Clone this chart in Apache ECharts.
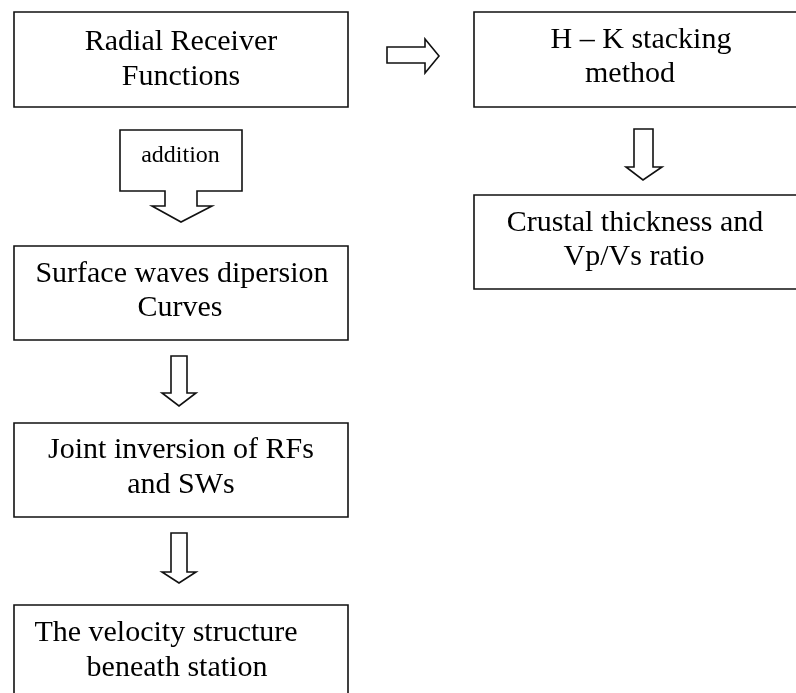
<!DOCTYPE html>
<html><head><meta charset="utf-8">
<script src="https://cdn.jsdelivr.net/npm/echarts@6/dist/echarts.min.js"></script>
<style>html,body{margin:0;padding:0;background:#fff}#c{width:796px;height:693px}</style>
</head><body><div id="c"></div>
<script>
// ---- content (flowchart steps and links) ----
const stepLines = [
  ["Radial Receiver", "Functions"],
  ["Surface waves dipersion", "Curves"],
  ["Joint inversion of RFs", "and SWs"],
  ["The velocity structure", "beneath station"],
  ["H \u2013 K stacking", "method"],
  ["Crustal thickness and", "Vp/Vs ratio"]
];
const linkFrom = [0, 1, 2, 0, 4];
const linkTo = [1, 2, 3, 4, 5];
const linkLabels = ["addition", "", "", "", ""];

// ---- layout (in a 796 x 693 coordinate space) ----
const boxRects = [
  [14, 12, 348, 107],
  [14, 246, 348, 340],
  [14, 423, 348, 517],
  [14, 605, 348, 730],
  [474, 12, 810, 107],
  [474, 195, 810, 289]
];
const boxBaselines = [[52, 87], [284, 318], [460, 495], [643, 678], [50, 84], [233, 267]];
const boxCenters = [[181, 181], [182, 180], [181, 181], [166, 177], [641, 630], [635, 634]];
const arrowPolys = [
  [[120,130],[242,130],[242,191],[197,191],[197,206],[212,206],[181,222],[152,206],[165,206],[165,191],[120,191]],
  [[171,356],[187,356],[187,393],[196,393],[179,406],[162,393],[171,393]],
  [[171,533],[187,533],[187,572],[196,572],[179,583],[162,572],[171,572]],
  [[387,47],[425,47],[425,39],[439,56],[425,73],[425,63],[387,63]],
  [[634,129],[653,129],[653,167],[662,167],[643,180],[626,167],[634,167]]
];
const arrowLabelPos = [[180.5, 163], null, null, null, null];

const FONT = "'Liberation Serif', 'Times New Roman', serif";
const LINE = '#111';

const chart = echarts.init(document.getElementById('c'));
chart.setOption({
  animation: false,
  backgroundColor: '#fff',
  grid: { left: 0, right: 0, top: 0, bottom: 0 },
  xAxis: { type: 'value', min: 0, max: 796, show: false },
  yAxis: { type: 'value', min: 0, max: 693, inverse: true, show: false },
  series: [
    {
      type: 'custom',
      name: 'steps',
      data: stepLines.map((l, i) => [i]),
      clip: false,
      renderItem: function (params, api) {
        const i = params.dataIndex;
        const r = boxRects[i];
        const p0 = api.coord([r[0], r[1]]);
        const p1 = api.coord([r[2], r[3]]);
        const children = [{
          type: 'rect',
          shape: { x: p0[0], y: p0[1], width: p1[0] - p0[0], height: p1[1] - p0[1] },
          style: { fill: '#fff', stroke: LINE, lineWidth: 1.6 }
        }];
        stepLines[i].forEach((t, k) => {
          const pt = api.coord([boxCenters[i][k], boxBaselines[i][k]]);
          children.push({
            type: 'text',
            style: {
              text: t, x: pt[0], y: pt[1] - 9.5,
              align: 'center', verticalAlign: 'middle',
              font: '30px ' + FONT, fill: '#000'
            }
          });
        });
        return { type: 'group', children: children };
      }
    },
    {
      type: 'custom',
      name: 'links',
      data: linkFrom.map((f, i) => [f, linkTo[i]]),
      clip: false,
      renderItem: function (params, api) {
        const i = params.dataIndex;
        const pts = arrowPolys[i].map(p => api.coord(p));
        const children = [{
          type: 'polygon',
          shape: { points: pts },
          style: { fill: '#fff', stroke: LINE, lineWidth: 1.6, lineJoin: 'miter' }
        }];
        if (linkLabels[i] && arrowLabelPos[i]) {
          const pt = api.coord(arrowLabelPos[i]);
          children.push({
            type: 'text',
            style: {
              text: linkLabels[i], x: pt[0], y: pt[1] - 7.5,
              align: 'center', verticalAlign: 'middle',
              font: '24px ' + FONT, fill: '#000'
            }
          });
        }
        return { type: 'group', children: children };
      }
    }
  ]
});
</script>
</body></html>
